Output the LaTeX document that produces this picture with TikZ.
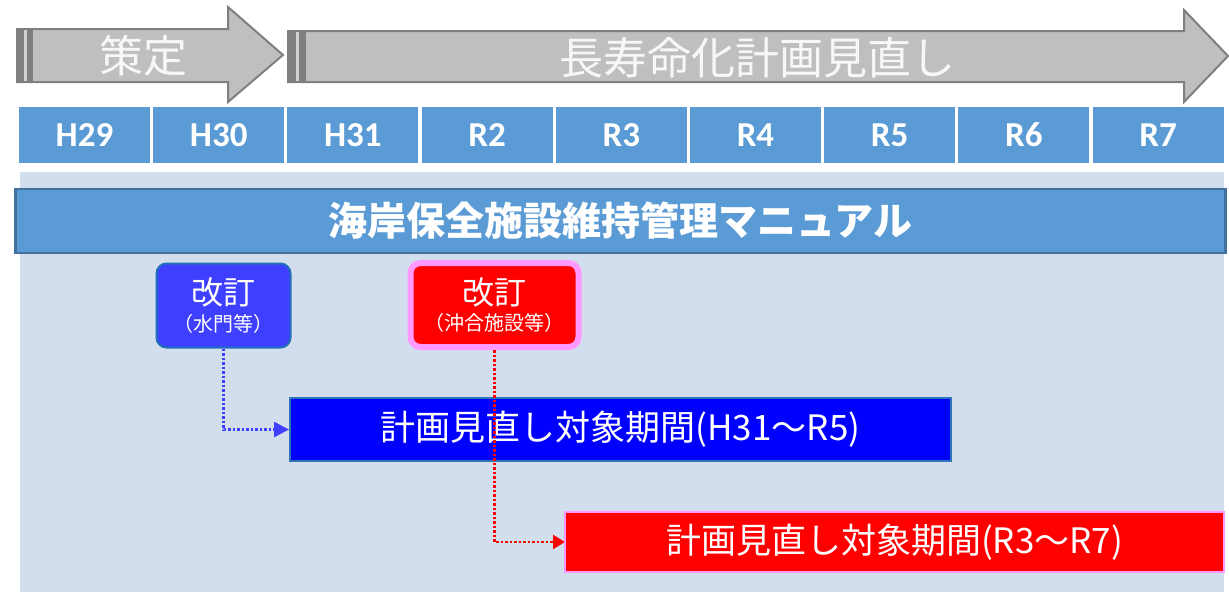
\documentclass[tikz,border=0pt]{standalone}
\usepackage{fontspec}
\setmainfont{Carlito}
\newfontfamily\jp{Noto Sans CJK JP}
\usetikzlibrary{arrows.meta}
\definecolor{arrowfill}{HTML}{BFBFBF}
\definecolor{arrowline}{HTML}{7F7F7F}
\definecolor{arrowtext}{HTML}{F7F7F7}
\definecolor{yearblue}{HTML}{5B9BD5}
\definecolor{panel}{HTML}{D2DDEE}
\definecolor{manualline}{HTML}{41719C}
\definecolor{boxblue}{HTML}{3F3FFF}
\definecolor{boxblueline}{HTML}{1F70B8}
\definecolor{barblueline}{HTML}{2E75B6}
\definecolor{pinkline}{HTML}{FF99FF}
\definecolor{pureblue}{HTML}{0000FF}
\definecolor{purered}{HTML}{FF0000}
\tikzset{
  bigarrow/.style={fill=arrowfill, draw=arrowline, line width=2pt, line join=miter},
  arrowlabel/.style={text=arrowtext, font=\jp\fontsize{44}{48}\selectfont, inner sep=0pt},
  yearcell/.style={fill=yearblue, minimum width=131pt, minimum height=56pt, inner sep=0pt,
    text=white, font=\bfseries\fontsize{35}{40}\selectfont},
  revbox/.style={rounded corners=10pt, text=white, align=center, inner sep=0pt,
    minimum width=#1, minimum height=84pt},
  planbar/.style={text=white, inner sep=0pt, font=\jp\fontsize{35}{40}\selectfont},
  dotconn/.style={line width=2.5pt, dash pattern=on 2.5pt off 2pt},
}
\begin{document}
\begin{tikzpicture}[x=1pt,y=-1pt]
\useasboundingbox (0,0) rectangle (1229,592);
% big arrows
\draw[bigarrow] (17,29) -- (228,29) -- (228,7) -- (283,55) -- (228,102) -- (228,82) -- (17,82) -- cycle;
\fill[arrowline] (17,29) rectangle (33,82);
\fill[arrowfill!70!white] (24,30) rectangle (27,81);
\node[arrowlabel] (sakutei) at (143,56) {策定};
\draw[bigarrow] (288,31) -- (1184,31) -- (1184,10) -- (1228,56) -- (1184,102) -- (1184,82) -- (288,82) -- cycle;
\fill[arrowline] (288,31) rectangle (306,82);
\fill[arrowfill!70!white] (296,32) rectangle (299,81);
\node[arrowlabel] (minaoshi) at (757,58) {長寿命化計画見直し};
% years
\foreach \lab [count=\i from 0] in {H29,H30,H31,R2,R3,R4,R5,R6,R7} {
  \node[yearcell] (y\i) at ({19+65.5+\i*134.2},135) {\raisebox{-3pt}{\lab}};
}
% panel
\fill[panel] (20,172) rectangle (1224,592);
% manual bar
\node[fill=yearblue, draw=manualline, line width=2.5pt, minimum width=1210pt, minimum height=64pt,
  inner sep=0pt, text=white, font=\jp\bfseries\fontsize{39}{44}\selectfont] (manual) at (620.5,221) {海岸保全施設維持管理マニュアル};
% revision boxes
\node[revbox=134pt, fill=boxblue, draw=boxblueline, line width=2pt] (rev1) at (223.5,305.5)
  {{\jp\fontsize{32}{36}\selectfont 改訂}\\[6pt]{\jp\fontsize{20}{22}\selectfont （水門等）}};
\node[revbox=168pt, fill=purered, draw=pinkline, line width=6pt] (rev2) at (494.5,305)
  {{\jp\fontsize{32}{36}\selectfont 改訂}\\[6pt]{\jp\fontsize{20}{22}\selectfont （沖合施設等）}};
% plan bars
\node[planbar, fill=pureblue, draw=barblueline, line width=2pt, minimum width=661pt, minimum height=63pt] (plan1) at (620.5,429.5)
  {計画見直し対象期間(H31～R5)};
\draw[dotconn, draw=boxblue, -{Triangle[length=15pt,width=15pt]}] (rev1.south) |- (plan1.west);
\draw[dotconn, draw=purered, -{Triangle[length=12pt,width=14pt]}] (rev2.south) |- (565,542) coordinate (redend);
\node[planbar, fill=purered, draw=pinkline, line width=1.5pt, minimum width=659pt, minimum height=60pt] (plan2) at (894.5,542)
  {計画見直し対象期間(R3～R7)};
\end{tikzpicture}
\end{document}
